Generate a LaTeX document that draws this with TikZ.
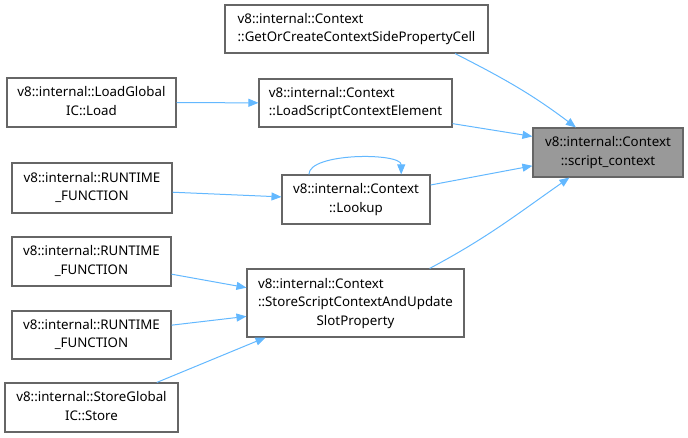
\documentclass[tikz,border=0pt]{standalone}
\usepackage{fontspec}
\setmainfont{Noto Sans}
\definecolor{EdgeColor}{RGB}{99,184,255}
\definecolor{BoxBorder}{RGB}{102,102,102}
\definecolor{TargetFill}{RGB}{153,153,153}
\usetikzlibrary{arrows.meta, positioning}
% all lines but the last one are left aligned, the last one is centred
\newcommand{\fnlabel}[2]{\begin{tabular}{@{}l@{}}#1\\\multicolumn{1}{@{}c@{}}{#2}\end{tabular}}
\tikzset{
    fn/.style={
        draw=BoxBorder,
        line width=1.1bp,
        fill=white,
        inner sep=0pt,
        minimum height=48bp,
        font=\fontsize{13.3bp}{18.5bp}\selectfont
    },
    target/.style={fn, fill=TargetFill},
    edge/.style={-{Triangle[length=10bp, width=8bp]}, line width=1bp, draw=EdgeColor}
}
\begin{document}
\begin{tikzpicture}[x=1bp, y=-1bp]
    \useasboundingbox (0,0) rectangle (688,438);
    % Nodes
    \node[target, minimum width=150bp, minimum height=49bp] (ctx) at (608,152.5) {\fnlabel{v8::internal::Context}{::script\_context}};
    \node[fn, minimum width=263bp] (getor) at (356.5,29) {\fnlabel{v8::internal::Context}{::GetOrCreateContextSidePropertyCell}};
    \node[fn, minimum width=193bp] (loadsce) at (355.5,103) {\fnlabel{v8::internal::Context}{::LoadScriptContextElement}};
    \node[fn, minimum width=169bp, minimum height=49bp] (loadic) at (91.5,102.5) {\fnlabel{v8::internal::LoadGlobal}{IC::Load}};
    \node[fn, minimum width=148bp, minimum height=49bp] (lookup) at (356,199.5) {\fnlabel{v8::internal::Context}{::Lookup}};
    \node[fn, minimum width=160bp, minimum height=50bp] (rtfn1) at (92,188) {\fnlabel{v8::internal::RUNTIME}{\_FUNCTION}};
    \node[fn, minimum width=217bp, minimum height=68bp] (storesc) at (355.5,303) {\fnlabel{v8::internal::Context\\::StoreScriptContextAndUpdate}{SlotProperty}};
    \node[fn, minimum width=159bp, minimum height=49bp] (rtfn2) at (91.5,261.5) {\fnlabel{v8::internal::RUNTIME}{\_FUNCTION}};
    \node[fn, minimum width=159bp, minimum height=48bp] (rtfn3) at (91.5,335) {\fnlabel{v8::internal::RUNTIME}{\_FUNCTION}};
    \node[fn, minimum width=173bp, minimum height=49bp] (storeic) at (91.5,407.5) {\fnlabel{v8::internal::StoreGlobal}{IC::Store}};

    % Arrows
    \draw[edge] (getor.-14) to[out=-27, in=143] (ctx.142);
    \draw[edge] (loadsce.-12) -- (ctx.168);
    \draw[edge] (loadic) -- (loadsce);
    \draw[edge] (lookup.11) -- (ctx.-170);
    \draw[edge] (lookup.152) to[out=90, in=90, distance=22bp] (lookup.29);
    \draw[edge] (rtfn1.-3) -- (lookup.178);
    \draw[edge] (storesc.25) to[out=28, in=-145] (ctx.-147);
    \draw[edge] (rtfn2.-9) -- (storesc.172);
    \draw[edge] (rtfn3.7) -- (storesc.-173);
    \draw[edge] (storeic.21) -- (storesc.-159);
\end{tikzpicture}
\end{document}
